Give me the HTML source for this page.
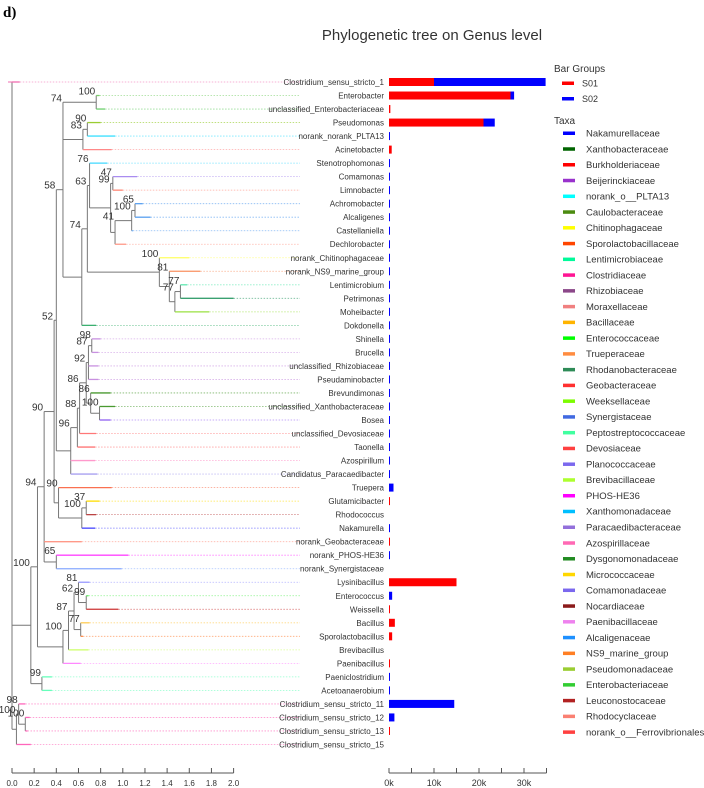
<!DOCTYPE html>
<html><head><meta charset="utf-8">
<style>
html,body{margin:0;padding:0;background:#fff;}
svg{display:block;font-family:"Liberation Sans",sans-serif;}
</style></head>
<body>
<svg id="chart" width="704" height="788" viewBox="0 0 704 788">
<text x="3" y="17" font-family="Liberation Serif,serif" font-weight="bold" font-size="15" fill="#000">d)</text>
<text x="432" y="40" text-anchor="middle" font-size="15" fill="#333">Phylogenetic tree on Genus level</text>
<g id="tree"></g>
<g id="bars"></g>
<g id="legend"></g>
</svg>
<script>
const genera = ["Clostridium_sensu_stricto_1","Enterobacter","unclassified_Enterobacteriaceae","Pseudomonas","norank_norank_PLTA13","Acinetobacter","Stenotrophomonas","Comamonas","Limnobacter","Achromobacter","Alcaligenes","Castellaniella","Dechlorobacter","norank_Chitinophagaceae","norank_NS9_marine_group","Lentimicrobium","Petrimonas","Moheibacter","Dokdonella","Shinella","Brucella","unclassified_Rhizobiaceae","Pseudaminobacter","Brevundimonas","unclassified_Xanthobacteraceae","Bosea","unclassified_Devosiaceae","Taonella","Azospirillum","Candidatus_Paracaedibacter","Truepera","Glutamicibacter","Rhodococcus","Nakamurella","norank_Geobacteraceae","norank_PHOS-HE36","norank_Synergistaceae","Lysinibacillus","Enterococcus","Weissella","Bacillus","Sporolactobacillus","Brevibacillus","Paenibacillus","Paeniclostridium","Acetoanaerobium","Clostridium_sensu_stricto_11","Clostridium_sensu_stricto_12","Clostridium_sensu_stricto_13","Clostridium_sensu_stricto_15"];
const s01 = [10,27,0.3,21,0,0.6,0,0,0,0,0,0,0,0,0,0,0,0,0,0,0,0,0,0,0,0,0,0,0,0,0,0.2,0,0,0.1,0,0,15,0,0.2,1.3,0.7,0,0.2,0,0,0,0,0.2,0];
const s02 = [24.8,0.8,0,2.5,0.1,0,0.2,0.2,0.2,0.2,0.2,0.2,0.2,0.2,0.2,0.2,0.1,0.1,0.1,0.2,0.2,0.2,0.2,0.2,0.2,0.1,0.1,0.1,0.2,0.1,1,0,0,0.1,0,0.2,0,0,0.7,0,0,0,0,0,0.1,0.1,14.5,1.2,0,0];
const leafColors = ["#f06cb0","#7ccf6c","#6ccf6c","#9acd32","#40e0ff","#f88","#40d8ff","#a98cf0","#f87","#5aa0f0","#5aa0f0","#5aa0f0","#f98","#ffff60","#f99060","#5fe8b0","#3aa070","#9ae040","#3bb070","#c890e0","#c890e0","#c890e0","#c890e0","#4a9a30","#4a9a30","#9060f0","#f77","#f77","#f9c","#a9a0f0","#fa7050","#fd0","#b44","#44f","#f98","#f4f","#8af","#99f","#6e6","#c33","#fc5","#f84","#cf6","#f8f","#6fb","#6fb","#f6b","#f6b","#f6b","#f6b"];
const treeTicks = [0,0.2,0.4,0.6,0.8,1.0,1.2,1.4,1.6,1.8,2.0];
const barTicks = [0,5,10,15,20,25,30,35];
const barTickLabels = ["0k","","10k","","20k","","30k",""];
const taxaNames = ["Nakamurellaceae","Xanthobacteraceae","Burkholderiaceae","Beijerinckiaceae","norank_o__PLTA13","Caulobacteraceae","Chitinophagaceae","Sporolactobacillaceae","Lentimicrobiaceae","Clostridiaceae","Rhizobiaceae","Moraxellaceae","Bacillaceae","Enterococcaceae","Trueperaceae","Rhodanobacteraceae","Geobacteraceae","Weeksellaceae","Synergistaceae","Peptostreptococcaceae","Devosiaceae","Planococcaceae","Brevibacillaceae","PHOS-HE36","Xanthomonadaceae","Paracaedibacteraceae","Azospirillaceae","Dysgonomonadaceae","Micrococcaceae","Comamonadaceae","Nocardiaceae","Paenibacillaceae","Alcaligenaceae","NS9_marine_group","Pseudomonadaceae","Enterobacteriaceae","Leuconostocaceae","Rhodocyclaceae","norank_o__Ferrovibrionales"];
const taxaColors = ["#0000ff","#006400","#ff0000","#9932cc","#00ffff","#4b8b10","#ffff00","#ff4500","#00fa9a","#ff1493","#8b4789","#f08080","#ffb400","#00ff00","#ff8c40","#2e8b57","#ff3030","#7cfc00","#4169e1","#40ffa0","#ff4040","#7b68ee","#adff2f","#ff00ff","#00bfff","#9370db","#ff69b4","#228b22","#ffd700","#7b68ee","#8b1a1a","#ee82ee","#1e90ff","#ff7f24","#9acd32","#32cd32","#b22222","#fa8072","#ff4040"];

function N(x,b,c){return {x:x,b:b,c:c};}
function L(x,i){return {x:x,i:i};}
const tree = N(0,"",[
 L(0.07,0),
 N(0.17,"100",[
  N(0.23,"94",[
   N(0.29,"90",[
    N(0.38,"52",[
     N(0.40,"58",[
      N(0.46,"74",[
       N(0.76,"100",[L(0.79,1),L(0.84,2)]),
       N(0.64,"83",[N(0.68,"90",[L(0.80,3),L(0.93,4)]),L(0.90,5)]),
       N(0.63,"74",[
        N(0.68,"63",[
         N(0.70,"76",[L(0.86,6),
          N(0.89,"99",[
           N(0.91,"47",[L(1.13,7),L(1.00,8)]),
           N(0.93,"41",[N(1.08,"100",[N(1.11,"65",[L(1.18,9),L(1.25,10)]),L(1.09,11)]),L(1.03,12)])
          ])]),
         N(1.33,"100",[L(1.60,13),N(1.42,"81",[L(1.70,14),N(1.47,"77",[N(1.52,"77",[L(1.58,15),L(2.00,16)]),L(1.78,17)])])])
        ]),
        L(0.76,18)])
      ]),
      N(0.53,"96",[
       N(0.59,"88",[
        N(0.61,"86",[
         N(0.67,"92",[
          N(0.69,"87",[N(0.72,"98",[L(0.80,19),L(0.78,20)]),L(0.78,21),L(0.78,22)]),
          N(0.71,"86",[L(0.89,23),N(0.79,"100",[L(0.93,24),L(0.89,25)])])
         ]),
         L(0.76,26)]),
        L(0.75,27)]),
       L(0.75,28),L(0.77,29)])
     ]),
     N(0.42,"90",[L(0.90,30),N(0.63,"100",[N(0.67,"37",[L(0.79,31),L(0.76,32)]),L(0.75,33)])])
    ]),
    L(0.63,34),
    N(0.40,"65",[L(1.05,35),L(0.99,36)])
   ]),
   N(0.46,"100",[
    N(0.51,"87",[
     N(0.56,"62",[
      N(0.60,"81",[L(0.70,37),N(0.67,"99",[L(0.69,38),L(0.96,39)])]),
      N(0.62,"77",[L(0.70,40),L(0.64,41)])
     ]),
     L(0.69,42)]),
    L(0.62,43)])
  ]),
  N(0.27,"99",[L(0.36,44),L(0.36,45)])
 ]),
 N(0.04,"100",[N(0.06,"98",[L(0.12,46),N(0.12,"100",[L(0.16,47),L(0.14,48)])]),L(0.17,49)])
]);

const NS="http://www.w3.org/2000/svg";
function el(tag,attrs,parent){const e=document.createElementNS(NS,tag);for(const k in attrs)e.setAttribute(k,attrs[k]);parent.appendChild(e);return e;}
const xT = u => 12 + u*110.8;
const yRow = i => 82 + i*13.52;
const xB = k => 389 + k*4.5;
const gT=document.getElementById('tree'), gB=document.getElementById('bars'), gL=document.getElementById('legend');

function layout(n){ if(n.i!==undefined){n.y=yRow(n.i);return n.y;} n.c.forEach(layout); n.y=(n.c[0].y+n.c[n.c.length-1].y)/2; return n.y;}
layout(tree);
function draw(n){
  if(n.i!==undefined) return;
  const v=el('line',{x1:xT(n.x),x2:xT(n.x),y1:n.c[0].y,y2:n.c[n.c.length-1].y,stroke:'#777','stroke-width':1},gT);
  
  
  if(n.b){
    const t=el('text',{x:xT(n.x)-1,y:n.c[0].y-1,'text-anchor':'end','font-size':10,fill:'#333'},gT);
    t.textContent=n.b;
    
    
  }
  n.c.forEach(ch=>{
    if(ch.i!==undefined){
      const h=el('line',{x1:xT(n.x),x2:xT(ch.x),y1:ch.y,y2:ch.y,stroke:leafColors[ch.i],'stroke-width':1.3},gT);
      
      
      const d=el('line',{x1:xT(ch.x),x2:300,y1:ch.y,y2:ch.y,stroke:leafColors[ch.i],'stroke-width':0.8,'stroke-dasharray':'1.5,1.5',opacity:0.7},gT);
      
      
    } else {
      const h=el('line',{x1:xT(n.x),x2:xT(ch.x),y1:ch.y,y2:ch.y,stroke:'#777','stroke-width':1},gT);
      
      
      draw(ch);
    }
  });
}
draw(tree);
// root stub
const rs=el('line',{x1:8,x2:12,y1:tree.c[0].y,y2:tree.c[0].y,stroke:'#f06cb0'},gT);



genera.forEach((g,i)=>{
  const t=el('text',{x:384,y:yRow(i)+3,'text-anchor':'end','font-size':8,fill:'#333'},gB);
  t.textContent=g;
  
  
  if(s01[i]>0){const r=el('rect',{x:xB(0),y:yRow(i)-4,width:Math.max(xB(s01[i])-xB(0),1),height:8,fill:'#ff0000'},gB);
    
    }
  if(s02[i]>0){const r=el('rect',{x:xB(s01[i]),y:yRow(i)-4,width:Math.max(xB(s01[i]+s02[i])-xB(s01[i]),1),height:8,fill:'#0000ff'},gB);
    
    }
});

// axes
const ax1=el('line',{x1:xT(0),x2:xT(2),y1:773,y2:773,stroke:'#555'},gT);


treeTicks.forEach(v=>{
  const tk=el('line',{x1:xT(v),x2:xT(v),y1:768,y2:773,stroke:'#555'},gT);
  
  
  const t=el('text',{x:xT(v),y:786,'text-anchor':'middle','font-size':8,fill:'#333'},gT);
  t.textContent=v.toFixed(1);
  
  
});
const ax2=el('line',{x1:xB(0),x2:xB(35),y1:773,y2:773,stroke:'#555'},gB);


barTicks.forEach((v,k)=>{
  const tk=el('line',{x1:xB(v),x2:xB(v),y1:768,y2:773,stroke:'#555'},gB);
  
  
  if(barTickLabels[k]){
    const t=el('text',{x:xB(v),y:786,'text-anchor':'middle','font-size':9,fill:'#333'},gB);
    t.textContent=barTickLabels[k];
    
    
  }
});

// legend
function lt(x,y,s,size,name){const t=el('text',{x:x,y:y,'font-size':size,fill:'#333'},gL);t.textContent=s;return t;}
lt(554,72,"Bar Groups",10,'legend-title-bar-groups');
[["S01","#ff0000"],["S02","#0000ff"]].forEach((g,k)=>{
  const y=83+k*15.5;
  const r=el('rect',{x:562,y:y-1.5,width:12,height:3.5,fill:g[1]},gL);
  
  
  lt(582,y+3.5,g[0],9,'legend-entry');
});
lt(554,124,"Taxa",10,'legend-title-taxa');
taxaNames.forEach((n,k)=>{
  const y=133+k*15.76;
  const r=el('rect',{x:563,y:y-1.5,width:12,height:3.5,fill:taxaColors[k]},gL);
  
  
  lt(586,y+3.5,n,9.5,'legend-entry');
});
</script>
</body></html>
